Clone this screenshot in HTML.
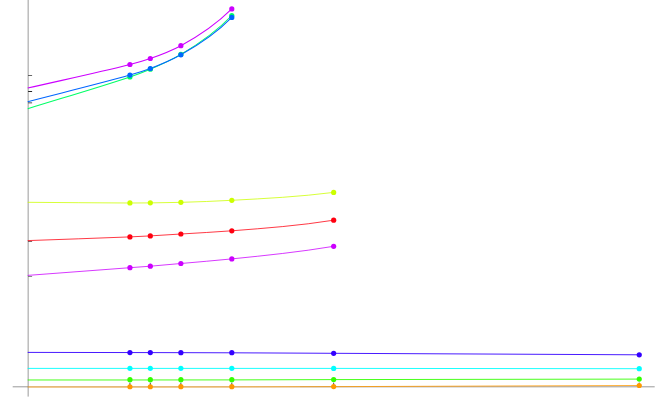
<!DOCTYPE html>
<html><head><meta charset="utf-8"><title>Chart</title>
<style>html,body{margin:0;padding:0;background:#fff;font-family:"Liberation Sans",sans-serif}svg{display:block}</style></head>
<body>
<svg width="664" height="410" viewBox="0 0 664 410">
<rect width="664" height="410" fill="#fff"/>
<g stroke="#808080" stroke-width="0.8" fill="none">
<path d="M28.15 0V396.6"/>
<path d="M12.7 386.80H654.7"/>
</g>
<g stroke="#000" fill="none">
<path d="M28.15 75.50H32.1" stroke-width="0.6" stroke="#000"/>
<path d="M28.15 91.50H32.1" stroke-width="0.85" stroke="#000"/>
<path d="M28.15 102.85H32.1" stroke-width="0.8" stroke="#222"/>
<path d="M28.15 241.50H32.1" stroke-width="0.6" stroke="#300"/>
<path d="M28.15 276.50H32.1" stroke-width="0.6" stroke="#343"/>
<path d="M129.93 386.80V382.6" stroke-width="0.8" stroke="#222"/>
<path d="M150.31 386.80V382.6" stroke-width="0.8" stroke="#222"/>
<path d="M180.86 386.80V382.6" stroke-width="0.8" stroke="#222"/>
<path d="M231.80 386.80V382.6" stroke-width="0.8" stroke="#222"/>
<path d="M333.66 386.80V382.6" stroke-width="0.8" stroke="#222"/>
<path d="M639.25 386.80V382.6" stroke-width="0.8" stroke="#222"/>
</g>
<path d="M28.6 386.92H300" stroke="#fff" stroke-width="0.6" fill="none"/>
<path d="M27.70 88.10 C61.78 80.23 95.86 73.09 129.93 64.50 C136.72 62.79 143.52 60.84 150.31 58.50 C160.49 54.99 170.68 51.12 180.86 45.70 C197.84 36.66 214.82 25.70 231.80 8.95" stroke="#cc00ff" stroke-width="1.05" fill="none" stroke-linejoin="round"/>
<path d="M27.70 108.70 C61.78 98.10 95.86 88.26 129.93 76.90 C136.72 74.64 143.52 72.06 150.31 69.20 C160.49 64.92 170.68 60.40 180.86 54.40 C197.84 44.40 214.82 33.21 231.80 15.50" stroke="#00ff66" stroke-width="1.05" fill="none" stroke-linejoin="round"/>
<path d="M27.70 101.70 C61.78 92.83 95.86 84.69 129.93 75.10 C136.72 73.19 143.52 71.04 150.31 68.50 C160.49 64.69 170.68 60.46 180.86 54.80 C197.84 45.37 214.82 34.72 231.80 17.40" stroke="#0066ff" stroke-width="1.05" fill="none" stroke-linejoin="round"/>
<path d="M27.70 202.30 C61.78 202.53 95.86 202.90 129.93 203.00 C136.72 203.02 143.52 202.97 150.31 202.90 C160.49 202.80 170.68 202.62 180.86 202.35 C197.84 201.90 214.82 201.19 231.80 200.30 C265.75 198.51 299.71 196.72 333.66 192.40" stroke="#ccff00" stroke-width="0.78" fill="none" stroke-linejoin="round"/>
<path d="M27.70 240.60 C61.78 239.37 95.86 238.28 129.93 236.90 C136.72 236.63 143.52 236.27 150.31 235.90 C160.49 235.35 170.68 234.64 180.86 234.00 C197.84 232.94 214.82 232.10 231.80 230.80 C265.75 228.20 299.71 225.60 333.66 220.20" stroke="#ff0010" stroke-width="0.78" fill="none" stroke-linejoin="round"/>
<path d="M27.70 275.40 C61.78 272.83 95.86 270.25 129.93 267.70 C136.72 267.19 143.52 266.74 150.31 266.20 C160.49 265.39 170.68 264.41 180.86 263.50 C197.84 261.99 214.82 260.62 231.80 258.90 C265.75 255.46 299.71 252.01 333.66 246.30" stroke="#cc00ff" stroke-width="0.78" fill="none" stroke-linejoin="round"/>
<path d="M27.70 352.40 C61.78 352.45 95.86 352.49 129.93 352.55 C136.72 352.56 143.52 352.58 150.31 352.60 C160.49 352.62 170.68 352.64 180.86 352.66 C197.84 352.70 214.82 352.74 231.80 352.80 C265.75 352.92 299.71 353.13 333.66 353.30 C435.52 353.80 537.39 354.30 639.25 354.80" stroke="#3300ff" stroke-width="0.9" fill="none" stroke-linejoin="round"/>
<path d="M27.70 368.40 C61.78 368.40 95.86 368.40 129.93 368.40 C136.72 368.40 143.52 368.40 150.31 368.40 C160.49 368.40 170.68 368.40 180.86 368.40 C197.84 368.40 214.82 368.40 231.80 368.40 C265.75 368.40 299.71 368.39 333.66 368.40 C435.52 368.42 537.39 368.52 639.25 368.70" stroke="#00ffff" stroke-width="0.9" fill="none" stroke-linejoin="round"/>
<path d="M27.70 379.98 C61.78 379.98 95.86 379.98 129.93 379.97 C136.72 379.97 143.52 379.96 150.31 379.96 C160.49 379.96 170.68 379.96 180.86 379.95 C197.84 379.94 214.82 379.93 231.80 379.90 C265.75 379.84 299.71 379.69 333.66 379.60 C435.52 379.33 537.39 379.17 639.25 379.10" stroke="#33ff00" stroke-width="0.9" fill="none" stroke-linejoin="round"/>
<path d="M27.70 386.98 C61.78 386.98 95.86 386.99 129.93 386.98 C136.72 386.98 143.52 386.97 150.31 386.97 C160.49 386.97 170.68 386.97 180.86 386.96 C197.84 386.95 214.82 386.93 231.80 386.90 C265.75 386.85 299.71 386.74 333.66 386.65 C435.52 386.37 537.39 385.98 639.25 385.50" stroke="#ff9900" stroke-width="0.8" fill="none" stroke-linejoin="round"/>
<circle cx="129.93" cy="64.50" r="2.6" fill="#cc00ff"/>
<circle cx="150.31" cy="58.50" r="2.6" fill="#cc00ff"/>
<circle cx="180.86" cy="45.70" r="2.6" fill="#cc00ff"/>
<circle cx="231.80" cy="8.95" r="2.6" fill="#cc00ff"/>
<circle cx="129.93" cy="76.90" r="2.6" fill="#00ff66"/>
<circle cx="150.31" cy="69.20" r="2.6" fill="#00ff66"/>
<circle cx="180.86" cy="54.40" r="2.6" fill="#00ff66"/>
<circle cx="231.80" cy="15.50" r="2.6" fill="#00ff66"/>
<circle cx="129.93" cy="75.10" r="2.6" fill="#0066ff"/>
<circle cx="150.31" cy="68.50" r="2.6" fill="#0066ff"/>
<circle cx="180.86" cy="54.80" r="2.6" fill="#0066ff"/>
<circle cx="231.80" cy="17.40" r="2.6" fill="#0066ff"/>
<circle cx="129.93" cy="202.90" r="2.6" fill="#ccff00"/>
<circle cx="150.31" cy="202.80" r="2.6" fill="#ccff00"/>
<circle cx="180.86" cy="202.30" r="2.6" fill="#ccff00"/>
<circle cx="231.80" cy="200.30" r="2.6" fill="#ccff00"/>
<circle cx="333.66" cy="192.40" r="2.6" fill="#ccff00"/>
<circle cx="129.93" cy="236.90" r="2.6" fill="#ff0010"/>
<circle cx="150.31" cy="235.90" r="2.6" fill="#ff0010"/>
<circle cx="180.86" cy="234.00" r="2.6" fill="#ff0010"/>
<circle cx="231.80" cy="230.80" r="2.6" fill="#ff0010"/>
<circle cx="333.66" cy="220.20" r="2.6" fill="#ff0010"/>
<circle cx="129.93" cy="267.70" r="2.6" fill="#cc00ff"/>
<circle cx="150.31" cy="266.20" r="2.6" fill="#cc00ff"/>
<circle cx="180.86" cy="263.50" r="2.6" fill="#cc00ff"/>
<circle cx="231.80" cy="258.90" r="2.6" fill="#cc00ff"/>
<circle cx="333.66" cy="246.30" r="2.6" fill="#cc00ff"/>
<circle cx="129.93" cy="352.55" r="2.6" fill="#3300ff"/>
<circle cx="150.31" cy="352.60" r="2.6" fill="#3300ff"/>
<circle cx="180.86" cy="352.66" r="2.6" fill="#3300ff"/>
<circle cx="231.80" cy="352.70" r="2.6" fill="#3300ff"/>
<circle cx="333.66" cy="353.30" r="2.6" fill="#3300ff"/>
<circle cx="639.25" cy="354.80" r="2.6" fill="#3300ff"/>
<circle cx="129.93" cy="368.30" r="2.6" fill="#00ffff"/>
<circle cx="150.31" cy="368.30" r="2.6" fill="#00ffff"/>
<circle cx="180.86" cy="368.30" r="2.6" fill="#00ffff"/>
<circle cx="231.80" cy="368.30" r="2.6" fill="#00ffff"/>
<circle cx="333.66" cy="368.40" r="2.6" fill="#00ffff"/>
<circle cx="639.25" cy="368.70" r="2.6" fill="#00ffff"/>
<circle cx="129.93" cy="379.65" r="2.6" fill="#33ff00"/>
<circle cx="150.31" cy="379.65" r="2.6" fill="#33ff00"/>
<circle cx="180.86" cy="379.65" r="2.6" fill="#33ff00"/>
<circle cx="231.80" cy="379.65" r="2.6" fill="#33ff00"/>
<circle cx="333.66" cy="379.50" r="2.6" fill="#33ff00"/>
<circle cx="639.25" cy="379.05" r="2.6" fill="#33ff00"/>
<circle cx="129.93" cy="386.75" r="2.6" fill="#ff9900"/>
<circle cx="150.31" cy="386.75" r="2.6" fill="#ff9900"/>
<circle cx="180.86" cy="386.72" r="2.6" fill="#ff9900"/>
<circle cx="231.80" cy="386.70" r="2.6" fill="#ff9900"/>
<circle cx="333.66" cy="386.60" r="2.6" fill="#ff9900"/>
<circle cx="639.25" cy="385.50" r="2.6" fill="#ff9900"/>
</svg>
</body></html>
